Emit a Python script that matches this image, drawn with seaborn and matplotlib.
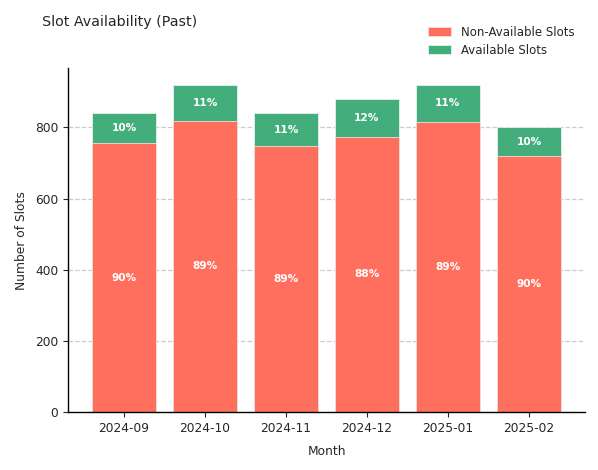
import matplotlib
matplotlib.use("Agg")
import matplotlib.pyplot as plt
import numpy as np
import pandas as pd
import seaborn as sns

# datos
months = ["2024-09", "2024-10", "2024-11", "2024-12", "2025-01", "2025-02"]
non_available = [756, 819, 747, 774, 816, 720]
available = [84, 101, 93, 106, 104, 80]

red = "#FF6F5E"
green = "#43AD7C"

sns.set_style("white")
plt.rcParams['font.family'] = ['DejaVu Sans']

df = pd.DataFrame({"month": months, "non_available": non_available, "available": available})
df["total"] = df["non_available"] + df["available"]

fig = plt.figure(figsize=(5.98, 4.7), dpi=100)
ax = fig.add_axes([0.114, 0.123, 0.864, 0.732])

# barra total (verde) y encima la parte no disponible (roja)
sns.barplot(data=df, x="month", y="total", color=green, saturation=1, width=0.8,
            edgecolor="#e8f0ec", linewidth=0.6, ax=ax, label="Available Slots")
sns.barplot(data=df, x="month", y="non_available", color=red, saturation=1, width=0.8,
            edgecolor="#f5e0dc", linewidth=0.6, ax=ax, label="Non-Available Slots")

for i, row in df.iterrows():
    p_na = round(row["non_available"] / row["total"] * 100)
    p_a = round(row["available"] / row["total"] * 100)
    ax.text(i, row["non_available"] / 2, f"{p_na}%", ha="center", va="center",
            color="white", fontsize=7.6, fontweight="bold")
    ax.text(i, row["non_available"] + row["available"] / 2, f"{p_a}%", ha="center",
            va="center", color="white", fontsize=7.6, fontweight="bold")

ax.set_xlim(-0.69, 5.69)
ax.set_ylim(0, 966)
ax.set_yticks([0, 200, 400, 600, 800])
ax.yaxis.grid(True, linestyle="--", color="#cccccc", linewidth=0.9)
ax.set_axisbelow(True)
ax.tick_params(axis="both", labelsize=8.8, length=3.5, left=True, bottom=True)
ax.set_xlabel("Month", fontsize=8.8, labelpad=7.3)
ax.set_ylabel("Number of Slots", fontsize=8.8, labelpad=5.3)
for s in ["top", "right"]:
    ax.spines[s].set_visible(False)
for s in ["left", "bottom"]:
    ax.spines[s].set_color("black")
    ax.spines[s].set_linewidth(1)

handles, labels = ax.get_legend_handles_labels()
if ax.get_legend():
    ax.get_legend().remove()
fig.legend(handles[::-1], labels[::-1], loc="upper right", bbox_to_anchor=(0.978, 0.968),
           frameon=False, fontsize=8.5, handlelength=2, labelspacing=0.42)

fig.text(0.07, 0.953, "Slot Availability (Past)", fontsize=10.3, ha="left", va="center")

fig.savefig("out.png", dpi=100)
